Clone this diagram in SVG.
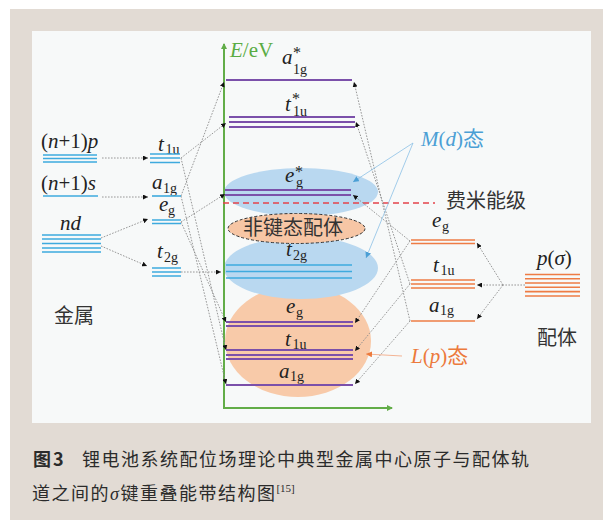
<svg xmlns="http://www.w3.org/2000/svg" width="603" height="520" viewBox="0 0 603 520">
<defs>
<style>
.lb{font-family:"Liberation Serif",serif;font-style:italic;font-size:21px;fill:#222}
.sb{font-family:"Liberation Serif",serif;font-style:normal;font-size:14px}
.st{font-family:"Liberation Serif",serif;font-style:normal;font-size:16px}
.rm{font-style:normal}
.cj{font-family:"Noto Sans CJK SC",sans-serif;font-style:normal}
.zh{font-family:"Noto Sans CJK SC",sans-serif;font-size:20px;fill:#333}
.cap{font-family:"Noto Sans CJK SC",sans-serif;font-size:18px;fill:#2b2b2b;letter-spacing:1.5px}
.mo{stroke:#7b50aa;stroke-width:1.8;fill:none}
.bl{stroke:#3eaade;stroke-width:1.6;fill:none}
.or{stroke:#ee7c45;stroke-width:1.6;fill:none}
.dc{stroke:#8c8c8c;stroke-width:0.9;stroke-dasharray:1.6 1.4;fill:none;marker-end:url(#ah)}
.dn{stroke:#8c8c8c;stroke-width:0.9;stroke-dasharray:1.6 1.4;fill:none}
</style>
<marker id="ah" viewBox="0 0 6 6" refX="6" refY="3" markerWidth="5" markerHeight="5" orient="auto" markerUnits="userSpaceOnUse"><path d="M0,0L6,3L0,6z" fill="#111"/></marker>
<marker id="ab" viewBox="0 0 6 6" refX="6" refY="3" markerWidth="6" markerHeight="6" orient="auto" markerUnits="userSpaceOnUse"><path d="M0,0L6,3L0,6z" fill="#4b9fd5"/></marker>
<marker id="ao" viewBox="0 0 6 6" refX="6" refY="3" markerWidth="6" markerHeight="6" orient="auto" markerUnits="userSpaceOnUse"><path d="M0,0L6,3L0,6z" fill="#ec7a3c"/></marker>
<marker id="ag" viewBox="0 0 6 6" refX="5" refY="3" markerWidth="6" markerHeight="6" orient="auto" markerUnits="userSpaceOnUse"><path d="M0,0L6,3L0,6z" fill="#62ad48"/></marker>
</defs>
<rect x="0" y="0" width="603" height="520" fill="#ffffff"/>
<rect x="10" y="9" width="593" height="511" fill="#e2dbd4"/>
<rect x="32" y="31" width="559" height="392" fill="#f7f9f9"/>

<g id="regions">
<ellipse cx="298" cy="341" rx="73" ry="56" fill="#f8caa9"/>
<ellipse cx="301" cy="268" rx="77" ry="31" fill="#b9d8f0"/>
<ellipse cx="301" cy="192" rx="77" ry="24" fill="#b9d8f0"/>
<g id="nonbonding"><ellipse cx="296.5" cy="228.5" rx="68.5" ry="15" fill="#f7c6a5" stroke="#333" stroke-width="1" stroke-dasharray="3 2"/>
<text class="zh" x="243" y="234.5" font-size="21">非键态配体</text></g>
</g>

<g id="axis">
<line x1="224" y1="408" x2="224" y2="44" stroke="#62ad48" stroke-width="2" marker-end="url(#ag)"/>
<line x1="223" y1="408" x2="392" y2="408" stroke="#62ad48" stroke-width="2" marker-end="url(#ag)"/>
<text class="lb" x="230" y="57" font-size="22" style="fill:#5aac44">E<tspan class="rm">/eV</tspan></text>
<line x1="223" y1="203" x2="435" y2="203" stroke="#e5434b" stroke-width="1.5" stroke-dasharray="6 4"/>
<text class="zh" x="446" y="208" font-size="21">费米能级</text>
</g>

<g id="connectors">
<line class="dc" x1="102" y1="158" x2="148" y2="158"/>
<line class="dc" x1="102" y1="197" x2="148" y2="197"/>
<line class="dc" x1="101" y1="238" x2="148" y2="219"/>
<line class="dc" x1="101" y1="246" x2="147" y2="266"/>
<line class="dc" x1="181" y1="158" x2="226" y2="123"/>
<line class="dc" x1="181" y1="158" x2="226" y2="350"/>
<line class="dc" x1="181" y1="196" x2="224" y2="82"/>
<line class="dc" x1="181" y1="196" x2="226" y2="384"/>
<line class="dc" x1="181" y1="222" x2="225" y2="194"/>
<line class="dc" x1="181" y1="222" x2="226" y2="322"/>
<line class="dc" x1="181" y1="272" x2="221" y2="272"/>
<line class="dc" x1="410" y1="321" x2="354" y2="82"/>
<line class="dc" x1="410" y1="321" x2="355" y2="384"/>
<line class="dc" x1="410" y1="284" x2="356" y2="122"/>
<line class="dc" x1="410" y1="284" x2="355" y2="351"/>
<line class="dc" x1="410" y1="241" x2="353" y2="195"/>
<line class="dc" x1="410" y1="241" x2="355" y2="323"/>
<line class="dn" x1="525" y1="285" x2="503" y2="285"/>
<line class="dc" x1="503" y1="285" x2="477" y2="243"/>
<line class="dc" x1="503" y1="285" x2="477" y2="285"/>
<line class="dc" x1="503" y1="285" x2="477" y2="319"/>
<line x1="413" y1="143" x2="353" y2="182" stroke="#8cc0e6" stroke-width="0.8" marker-end="url(#ab)"/>
<line x1="413" y1="143" x2="366" y2="258" stroke="#8cc0e6" stroke-width="0.8" marker-end="url(#ab)"/>
<line x1="402" y1="356" x2="366" y2="354" stroke="#f2a27a" stroke-width="0.8" marker-end="url(#ao)"/>
</g>

<g id="metal-np">
<text class="lb" x="41" y="148"><tspan class="rm">(</tspan>n<tspan class="rm">+1)</tspan>p</text>
<path class="bl" d="M43,155H97M43,158.5H97M43,162H97"/>
</g>
<g id="metal-ns">
<text class="lb" x="41" y="190"><tspan class="rm">(</tspan>n<tspan class="rm">+1)</tspan>s</text>
<path class="bl" d="M43,196H98"/>
</g>
<g id="metal-nd">
<text class="lb" x="60" y="230">nd</text>
<path class="bl" d="M42,235H101M42,239H101M42,243.5H101M42,248H101M42,252H101"/>
</g>
<g id="metal-t1u">
<text class="lb" x="158" y="151">t<tspan class="sb" x="165.5" y="154">1u</tspan></text>
<path class="bl" d="M150,154H180M150,158H180M150,162.5H180"/>
</g>
<g id="metal-a1g">
<text class="lb" x="152" y="189">a<tspan class="sb" x="163" y="193">1g</tspan></text>
<path class="bl" d="M152,196H181"/>
</g>
<g id="metal-eg">
<text class="lb" x="159" y="211">e<tspan class="sb" x="168" y="215">g</tspan></text>
<path class="bl" d="M152,220H181M152,223.5H181"/>
</g>
<g id="metal-t2g">
<text class="lb" x="157" y="258">t<tspan class="sb" x="164" y="262">2g</tspan></text>
<path class="bl" d="M152,268H181M152,272H181M152,276H181"/>
</g>
<text class="zh" x="54" y="323">金属</text>

<g id="mo-a1g-star">
<text class="lb" x="282" y="64">a<tspan class="st" x="293" y="58">*</tspan><tspan class="sb" x="293" y="74">1g</tspan></text>
<path class="mo" d="M226,80H352"/>
</g>
<g id="mo-t1u-star">
<text class="lb" x="285" y="111">t<tspan class="st" x="292" y="104">*</tspan><tspan class="sb" x="293" y="116">1u</tspan></text>
<path class="mo" d="M229,117H355M229,122H355M229,127H355"/>
</g>
<g id="mo-eg-star">
<text class="lb" x="285" y="182">e<tspan class="st" x="295" y="177">*</tspan><tspan class="sb" x="296" y="187">g</tspan></text>
<path class="mo" d="M225,190H351M225,195H351"/>
</g>
<g id="mo-t2g">
<text class="lb" x="286" y="256">t<tspan class="sb" x="293" y="260">2g</tspan></text>
<path class="bl" d="M226,265H352M226,271.5H352M226,278H352"/>
</g>
<g id="mo-eg">
<text class="lb" x="286" y="313">e<tspan class="sb" x="296" y="317">g</tspan></text>
<path class="mo" d="M226,322H353M226,326H353"/>
</g>
<g id="mo-t1u">
<text class="lb" x="285" y="346">t<tspan class="sb" x="292.5" y="349">1u</tspan></text>
<path class="mo" d="M226,350H353M226,355H353M226,359H353"/>
</g>
<g id="mo-a1g">
<text class="lb" x="279" y="378">a<tspan class="sb" x="290" y="381">1g</tspan></text>
<path class="mo" d="M226,385H353"/>
</g>

<g id="lig-eg">
<text class="lb" x="432" y="227">e<tspan class="sb" x="442" y="231">g</tspan></text>
<path class="or" d="M411,240H475M411,243.5H475"/>
</g>
<g id="lig-t1u">
<text class="lb" x="433" y="272">t<tspan class="sb" x="440.5" y="275">1u</tspan></text>
<path class="or" d="M411,280H475M411,284H475M411,288H475"/>
</g>
<g id="lig-a1g">
<text class="lb" x="429" y="312">a<tspan class="sb" x="440" y="315">1g</tspan></text>
<path class="or" d="M411,321H475"/>
</g>
<g id="lig-p">
<text class="lb" x="537" y="265">p<tspan class="rm">(</tspan>σ<tspan class="rm">)</tspan></text>
<path class="or" d="M525,274.5H580M525,278.8H580M525,283H580M525,287.3H580M525,291.6H580M525,296H580"/>
</g>
<text class="zh" x="537" y="345">配体</text>

<text class="lb" x="421" y="146" style="fill:#4b9fd5">M<tspan class="rm">(</tspan>d<tspan class="rm">)</tspan><tspan class="cj">态</tspan></text>
<text class="lb" x="411" y="363" style="fill:#ec7a3c">L<tspan class="rm">(</tspan>p<tspan class="rm">)</tspan><tspan class="cj">态</tspan></text>

<g id="caption">
<text class="cap" x="33" y="466" font-weight="bold" style="letter-spacing:2px">图3</text>
<text class="cap" x="82" y="466">锂电池系统配位场理论中典型金属中心原子与配体轨</text>
<text class="cap" x="32" y="500">道之间的<tspan font-family="Liberation Serif" font-style="italic">σ</tspan>键重叠能带结构图<tspan font-family="Liberation Serif" font-size="11" dy="-8" style="letter-spacing:0">[15]</tspan></text>
</g>
</svg>
